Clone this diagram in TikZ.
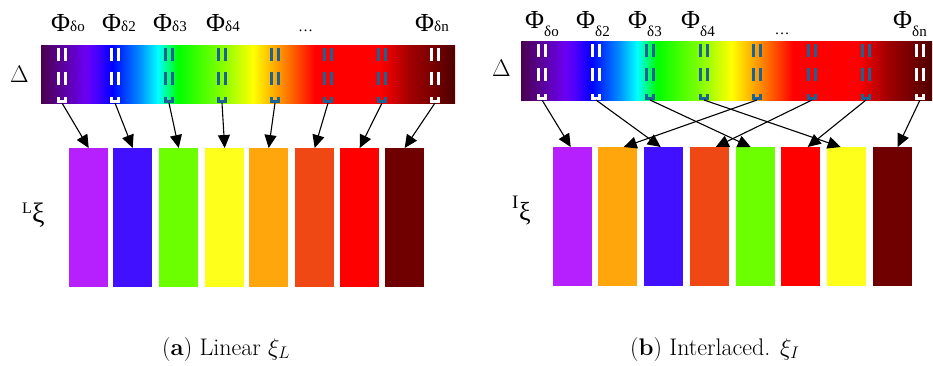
\documentclass[tikz,border=0pt]{standalone}
\usepackage{fix-cm}
\usepackage{fontspec}
\newfontfamily\tms{Liberation Serif}
\usetikzlibrary{arrows.meta}
\pgfdeclarehorizontalshading{spectrum}{100bp}{rgb(0bp)=(0.29,0,0.31); rgb(25bp)=(0.29,0,0.31); rgb(30.31bp)=(0.42,0,0.94); rgb(31.52bp)=(0.31,0,1); rgb(33.57bp)=(0,0,1); rgb(36.96bp)=(0,0.56,1); rgb(39.13bp)=(0,1,1); rgb(41.55bp)=(0,1,0); rgb(47.22bp)=(0.56,1,0); rgb(50.60bp)=(1,1,0); rgb(54.47bp)=(1,0.5,0); rgb(58.09bp)=(1,0,0); rgb(65.94bp)=(1,0,0); rgb(69.57bp)=(0.63,0,0); rgb(75bp)=(0.31,0,0); rgb(100bp)=(0.31,0,0)}
\definecolor{dB}{HTML}{1B6394}
\definecolor{cPur}{HTML}{B620FF}
\definecolor{cBlu}{HTML}{4010FF}
\definecolor{cGrn}{HTML}{6CFF00}
\definecolor{cYel}{HTML}{FFFF1C}
\definecolor{cOra}{HTML}{FFA60D}
\definecolor{cRor}{HTML}{F04814}
\definecolor{cRed}{HTML}{FF0000}
\definecolor{cDrk}{HTML}{700000}
\begin{document}
\begin{tikzpicture}[x=1pt,y=-1pt,
  mk/.style={line width=2.8pt},
  bin/.style={draw=none, minimum width=39pt, minimum height=139pt, inner sep=0pt, anchor=north west},
  conn/.style={line width=1.1pt, -{Triangle[length=13pt,width=12pt]}},
  phi/.style={anchor=base west, inner sep=0pt, font=\tms\fontsize{26}{30}\selectfont},
  sub/.style={font=\tms\fontsize{15}{18}\selectfont},
  lbl/.style={anchor=base west, inner sep=0pt},
]
\useasboundingbox (0,0) rectangle (933,365);

% ---------------- left panel ----------------
\shade[shading=spectrum] (41,45) rectangle (455,103);
\foreach \x/\c [count=\i] in {62/white,115/white,169/dB,222/dB,275/dB,328/dB,382/dB,435/white}{
  \draw[mk,\c] (\x-3.5,48)--(\x-3.5,61) (\x+3.5,48)--(\x+3.5,61);
  \draw[mk,\c] (\x-3.5,72)--(\x-3.5,85) (\x+3.5,72)--(\x+3.5,85);
  \draw[mk,\c] (\x-3.5,97)--(\x-3.5,101.6)--(\x+3.5,101.6)--(\x+3.5,97);
  \coordinate (dL\i) at (\x,103);
}
\foreach \x/\c [count=\i] in {69/cPur,113/cBlu,159/cGrn,205/cYel,249/cOra,295/cRor,340/cRed,385/cDrk}{
  \node[bin,fill=\c] (rL\i) at (\x,148) {};
}
\foreach \i in {1,...,8}{ \draw[conn] (dL\i) -- (rL\i.north); }

\node[phi] (pL1) at (51,31) {Φ{\fontsize{15}{18}\selectfont δo}};
\node[phi] (pL2) at (102,31) {Φ{\fontsize{15}{18}\selectfont δ2}};
\node[phi] (pL3) at (153,31) {Φ{\fontsize{15}{18}\selectfont δ3}};
\node[phi] (pL4) at (206,31) {Φ{\fontsize{15}{18}\selectfont δ4}};
\node[sub,anchor=base,inner sep=0pt] (eL) at (305.5,31) {…};
\node[phi] (pL5) at (415,31) {Φ{\fontsize{15}{18}\selectfont δn}};
\node[lbl,font=\fontsize{20}{24}\selectfont] (DL) at (10,82) {\scalebox{1.2}{$\Delta$}};
\node[lbl,font=\tms\fontsize{16}{18}\selectfont] (sL) at (22,213) {L};
\node[lbl,font=\tms\fontsize{28}{30}\selectfont] (xL) at (32,222) {ξ};

% ---------------- right panel ----------------
\shade[shading=spectrum] (521,41) rectangle (932,100);
\foreach \x/\c [count=\i] in {542/white,596/white,650/dB,704/dB,757/dB,812/dB,866/dB,920/white}{
  \draw[mk,\c] (\x-3.5,44)--(\x-3.5,57) (\x+3.5,44)--(\x+3.5,57);
  \draw[mk,\c] (\x-3.5,68)--(\x-3.5,81) (\x+3.5,68)--(\x+3.5,81);
  \draw[mk,\c] (\x-3.5,94)--(\x-3.5,98.6)--(\x+3.5,98.6)--(\x+3.5,94);
  \coordinate (dR\i) at (\x,100);
}
\foreach \x/\c [count=\i] in {553/cPur,598/cOra,644/cBlu,690/cRor,736/cGrn,781/cRed,827/cYel,873/cDrk}{
  \node[bin,fill=\c] (rR\i) at (\x,147) {};
}
\foreach \a/\b/\o in {1/1/-2,2/3/-3,3/5/-5,4/7/-6,5/2/6,6/4/6,7/6/7,8/8/5}{
  \draw[conn] (dR\a) -- ([xshift=\o pt]rR\b.north);
}

\node[phi] (pR1) at (525,28) {Φ\raisebox{-8pt}{\fontsize{15}{18}\selectfont δo}};
\node[phi] (pR2) at (576,28) {Φ\raisebox{-8pt}{\fontsize{15}{18}\selectfont δ2}};
\node[phi] (pR3) at (628,28) {Φ\raisebox{-8pt}{\fontsize{15}{18}\selectfont δ3}};
\node[phi] (pR4) at (681,28) {Φ\raisebox{-8pt}{\fontsize{15}{18}\selectfont δ4}};
\node[sub,anchor=base,inner sep=0pt] (eR) at (782,34) {…};
\node[phi] (pR5) at (893,28) {Φ\raisebox{-8pt}{\fontsize{15}{18}\selectfont δn}};
\node[lbl,font=\fontsize{20}{24}\selectfont] (DR) at (492,76) {\scalebox{1.2}{$\Delta$}};
\node[lbl,font=\tms\fontsize{19}{22}\selectfont] (sR) at (512,208) {I};
\node[lbl,font=\tms\fontsize{26}{30}\selectfont] (xR) at (519,220) {ξ};

% ---------------- captions ----------------
\node[lbl,font=\fontsize{24}{28}\selectfont] (capA) at (162,355) {(\textbf{a}) Linear $\xi_L$};
\node[lbl,font=\fontsize{24}{28}\selectfont] (capB) at (630,355) {(\textbf{b}) Interlaced. $\xi_I$};
\end{tikzpicture}
\end{document}
